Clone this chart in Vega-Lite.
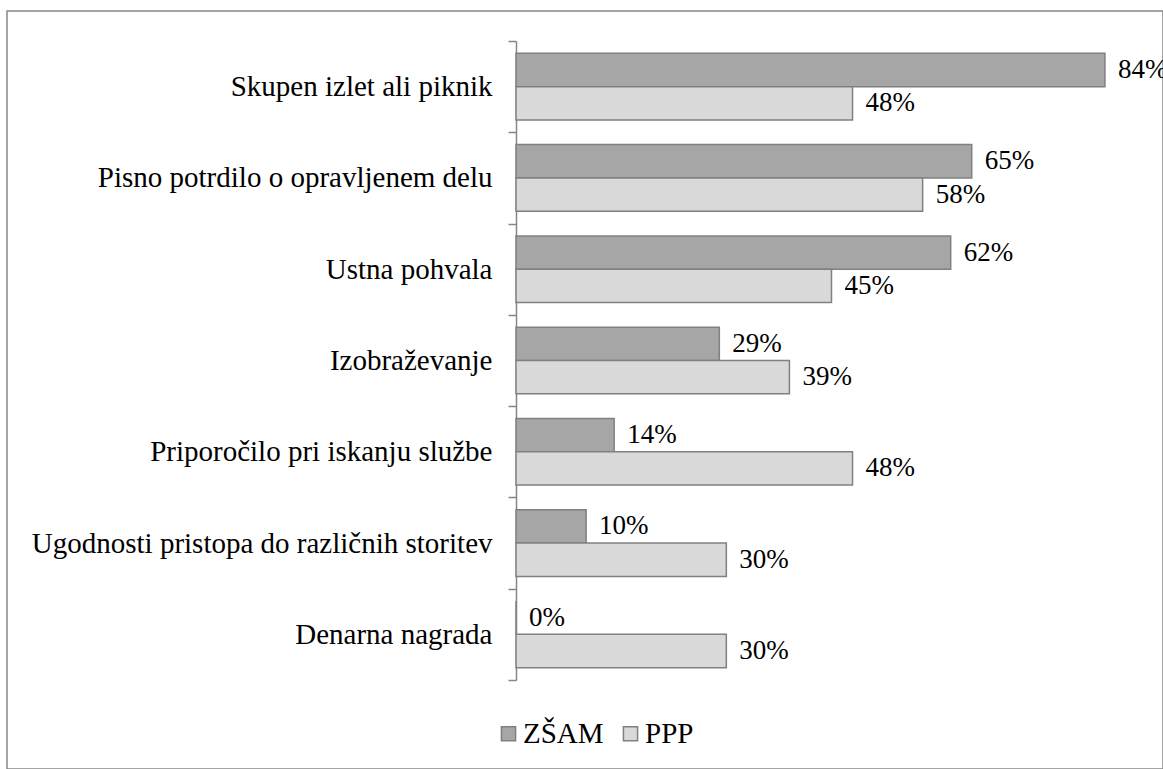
{
  "$schema": "https://vega.github.io/schema/vega-lite/v6.json",
  "width": 1156,
  "height": 758,
  "autosize": {"type": "none"},
  "padding": {"left": 7, "top": 11, "right": 0, "bottom": 0},
  "background": "white",
  "config": {
    "view": {"stroke": "#868686", "strokeWidth": 1.5},
    "font": "Liberation Serif, Times New Roman, serif"
  },
  "data": {
    "values": [
      {"category": "Skupen izlet ali piknik", "series": "ZŠAM", "value": 84, "label": "84%"},
      {"category": "Skupen izlet ali piknik", "series": "PPP", "value": 48, "label": "48%"},
      {"category": "Pisno potrdilo o opravljenem delu", "series": "ZŠAM", "value": 65, "label": "65%"},
      {"category": "Pisno potrdilo o opravljenem delu", "series": "PPP", "value": 58, "label": "58%"},
      {"category": "Ustna pohvala", "series": "ZŠAM", "value": 62, "label": "62%"},
      {"category": "Ustna pohvala", "series": "PPP", "value": 45, "label": "45%"},
      {"category": "Izobraževanje", "series": "ZŠAM", "value": 29, "label": "29%"},
      {"category": "Izobraževanje", "series": "PPP", "value": 39, "label": "39%"},
      {"category": "Priporočilo pri iskanju službe", "series": "ZŠAM", "value": 14, "label": "14%"},
      {"category": "Priporočilo pri iskanju službe", "series": "PPP", "value": 48, "label": "48%"},
      {"category": "Ugodnosti pristopa do različnih storitev", "series": "ZŠAM", "value": 10, "label": "10%"},
      {"category": "Ugodnosti pristopa do različnih storitev", "series": "PPP", "value": 30, "label": "30%"},
      {"category": "Denarna nagrada", "series": "ZŠAM", "value": 0, "label": "0%"},
      {"category": "Denarna nagrada", "series": "PPP", "value": 30, "label": "30%"}
    ]
  },
  "encoding": {
    "y": {
      "field": "category",
      "type": "nominal",
      "sort": ["Skupen izlet ali piknik", "Pisno potrdilo o opravljenem delu", "Ustna pohvala", "Izobraževanje", "Priporočilo pri iskanju službe", "Ugodnosti pristopa do različnih storitev", "Denarna nagrada"],
      "scale": {"range": [30, 669], "paddingInner": 0, "paddingOuter": 0},
      "axis": {
        "title": null,
        "offset": -509,
        "tickBand": "extent",
        "domainColor": "#868686",
        "tickColor": "#868686",
        "domainWidth": 1.5,
        "tickWidth": 1.5,
        "tickSize": 8,
        "labelFont": "Liberation Serif, Times New Roman, serif",
        "labelFontSize": 29,
        "labelColor": "black",
        "labelPadding": 16,
        "labelLimit": 0
      }
    },
    "yOffset": {
      "field": "series",
      "type": "nominal",
      "sort": ["ZŠAM", "PPP"],
      "scale": {"paddingOuter": 0.37, "paddingInner": 0}
    },
    "x": {
      "field": "value",
      "type": "quantitative",
      "scale": {"domain": [0, 90], "range": [509, 1140]},
      "axis": null
    }
  },
  "layer": [
    {
      "mark": {"type": "bar", "stroke": "#808080", "strokeWidth": 1.5},
      "encoding": {
        "color": {
          "field": "series",
          "type": "nominal",
          "scale": {"domain": ["ZŠAM", "PPP"], "range": ["#a6a6a6", "#d9d9d9"]},
          "legend": {
            "orient": "none",
            "legendX": 487,
            "legendY": 708,
            "direction": "horizontal",
            "title": null,
            "symbolType": "square",
            "symbolSize": 200,
            "symbolStrokeColor": "#808080",
            "symbolStrokeWidth": 1.5,
            "symbolOpacity": 1,
            "labelFont": "Liberation Serif, Times New Roman, serif",
            "labelFontSize": 29,
            "labelColor": "black",
            "labelOffset": 0,
            "columnPadding": 12,
            "padding": 0
          }
        }
      }
    },
    {
      "mark": {"type": "text", "align": "left", "baseline": "middle", "dx": 13, "fontSize": 27, "font": "Liberation Serif, Times New Roman, serif", "color": "black"},
      "encoding": {"text": {"field": "label"}}
    }
  ]
}
